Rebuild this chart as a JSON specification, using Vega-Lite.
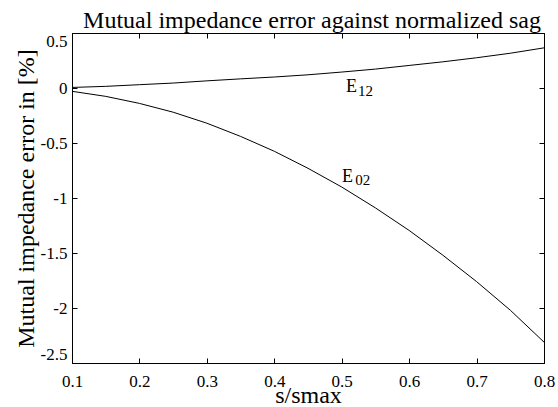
{
  "$schema": "https://vega.github.io/schema/vega-lite/v6.json",
  "width": 472,
  "height": 330,
  "autosize": {"type": "none"},
  "padding": {"left": 72, "top": 33, "right": 14, "bottom": 44},
  "background": "white",
  "config": {
    "font": "Liberation Serif, Times New Roman, serif",
    "view": {"stroke": "black", "strokeWidth": 1},
    "axis": {
      "grid": false,
      "domainColor": "black",
      "domainWidth": 1,
      "tickColor": "black",
      "tickWidth": 1,
      "tickSize": -5,
      "labelColor": "black",
      "labelFont": "Liberation Serif, Times New Roman, serif",
      "labelFontSize": 17,
      "labelFlush": false,
      "labelOverlap": false,
      "titleColor": "black",
      "titleFont": "Liberation Serif, Times New Roman, serif",
      "titleFontSize": 24,
      "titleFontWeight": "normal"
    }
  },
  "title": {
    "text": "Mutual impedance error against normalized sag",
    "font": "Liberation Serif, Times New Roman, serif",
    "fontSize": 24,
    "fontWeight": "normal",
    "color": "black",
    "offset": -1,
    "dx": 4
  },
  "datasets": {
    "curves": [
      {"s": 0.10, "err": 0.005, "series": "E12"},
      {"s": 0.15, "err": 0.015, "series": "E12"},
      {"s": 0.20, "err": 0.03, "series": "E12"},
      {"s": 0.25, "err": 0.045, "series": "E12"},
      {"s": 0.30, "err": 0.065, "series": "E12"},
      {"s": 0.35, "err": 0.083, "series": "E12"},
      {"s": 0.40, "err": 0.10, "series": "E12"},
      {"s": 0.45, "err": 0.12, "series": "E12"},
      {"s": 0.50, "err": 0.145, "series": "E12"},
      {"s": 0.55, "err": 0.172, "series": "E12"},
      {"s": 0.60, "err": 0.205, "series": "E12"},
      {"s": 0.65, "err": 0.238, "series": "E12"},
      {"s": 0.70, "err": 0.275, "series": "E12"},
      {"s": 0.75, "err": 0.316, "series": "E12"},
      {"s": 0.80, "err": 0.365, "series": "E12"},
      {"s": 0.10, "err": -0.03, "series": "E02"},
      {"s": 0.15, "err": -0.076, "series": "E02"},
      {"s": 0.20, "err": -0.14, "series": "E02"},
      {"s": 0.25, "err": -0.22, "series": "E02"},
      {"s": 0.30, "err": -0.32, "series": "E02"},
      {"s": 0.35, "err": -0.44, "series": "E02"},
      {"s": 0.40, "err": -0.575, "series": "E02"},
      {"s": 0.45, "err": -0.73, "series": "E02"},
      {"s": 0.50, "err": -0.90, "series": "E02"},
      {"s": 0.55, "err": -1.09, "series": "E02"},
      {"s": 0.60, "err": -1.295, "series": "E02"},
      {"s": 0.65, "err": -1.52, "series": "E02"},
      {"s": 0.70, "err": -1.76, "series": "E02"},
      {"s": 0.75, "err": -2.02, "series": "E02"},
      {"s": 0.80, "err": -2.31, "series": "E02"}
    ],
    "mainLabels": [
      {"s": 0.5065, "err": -0.04, "text": "E"},
      {"s": 0.5006, "err": -0.85, "text": "E"}
    ],
    "subLabels": [
      {"s": 0.524, "err": -0.077, "text": "12"},
      {"s": 0.520, "err": -0.878, "text": "02"}
    ]
  },
  "layer": [
    {
      "data": {"name": "curves"},
      "mark": {"type": "line", "color": "black", "strokeWidth": 1},
      "encoding": {
        "x": {
          "field": "s",
          "type": "quantitative",
          "scale": {"domain": [0.1, 0.8], "nice": false, "zero": false},
          "axis": {
            "orient": "bottom",
            "values": [0.1, 0.2, 0.3, 0.4, 0.5, 0.6, 0.7, 0.8],
            "labelExpr": "toString(datum.value)",
            "labelPadding": 15,
            "title": "s/smax",
            "titlePadding": -6
          }
        },
        "y": {
          "field": "err",
          "type": "quantitative",
          "scale": {"domain": [-2.5, 0.5], "nice": false, "zero": false},
          "axis": {
            "orient": "left",
            "values": [0.5, 0, -0.5, -1, -1.5, -2, -2.5],
            "labelExpr": "toString(datum.value)",
            "labelFlush": true,
            "labelPadding": 10,
            "title": "Mutual impedance error in [%]",
            "titlePadding": 2
          }
        },
        "detail": {"field": "series"}
      }
    },
    {
      "data": {"name": "mainLabels"},
      "mark": {"type": "text", "align": "left", "baseline": "alphabetic", "fontSize": 18, "color": "black"},
      "encoding": {
        "x": {
          "field": "s",
          "type": "quantitative",
          "axis": {"orient": "top", "values": [0.1, 0.2, 0.3, 0.4, 0.5, 0.6, 0.7, 0.8], "labels": false, "title": null}
        },
        "y": {
          "field": "err",
          "type": "quantitative",
          "axis": {"orient": "right", "values": [0.5, 0, -0.5, -1, -1.5, -2, -2.5], "labels": false, "title": null}
        },
        "text": {"field": "text"}
      }
    },
    {
      "data": {"name": "subLabels"},
      "mark": {"type": "text", "align": "left", "baseline": "alphabetic", "fontSize": 15, "color": "black"},
      "encoding": {
        "x": {"field": "s", "type": "quantitative", "axis": null},
        "y": {"field": "err", "type": "quantitative", "axis": null},
        "text": {"field": "text"}
      }
    }
  ],
  "resolve": {"axis": {"x": "independent", "y": "independent"}}
}
